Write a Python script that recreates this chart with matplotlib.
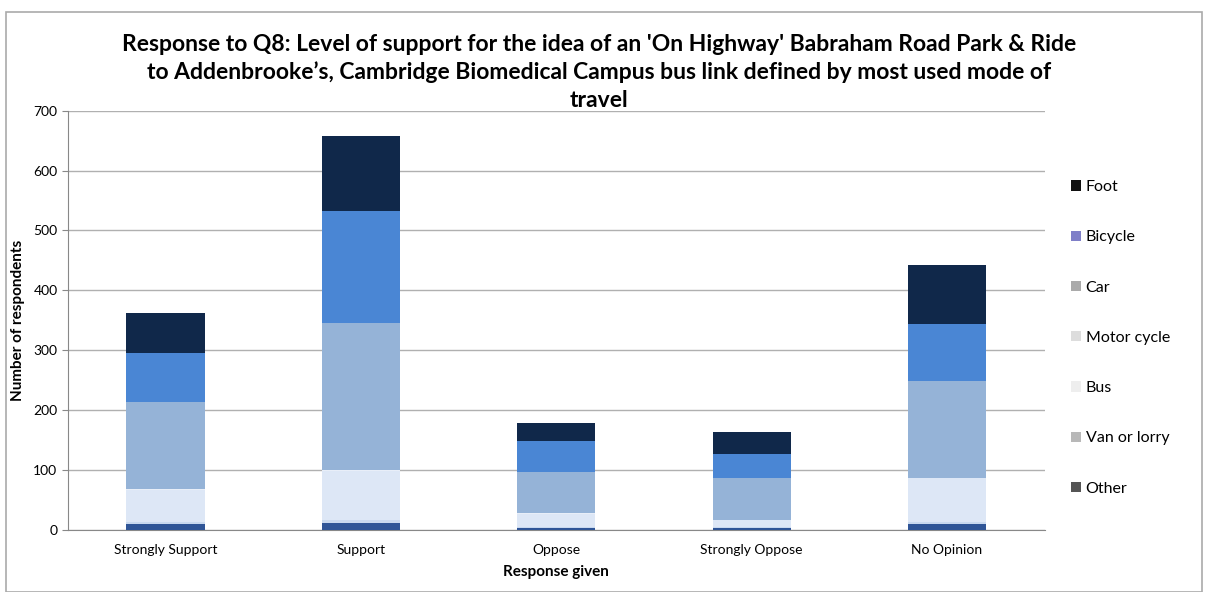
import matplotlib
matplotlib.use("Agg")
import matplotlib.pyplot as plt
from matplotlib.patches import Patch, Rectangle
import numpy as np

plt.rcParams['font.family'] = ['Lato', 'DejaVu Sans']

categories = ["Strongly Support", "Support", "Oppose", "Strongly Oppose", "No Opinion"]
modes = ["Other", "Van or lorry", "Bus", "Motor cycle", "Car", "Bicycle", "Foot"]
other = [10, 12, 3, 3, 10]
van_or_lorry = [3, 4, 2, 2, 3]
bus = [54, 82, 22, 11, 73]
motor_cycle = [1, 2, 1, 1, 1]
car = [146, 246, 69, 69, 161]
bicycle = [81, 186, 52, 41, 96]
foot = [67, 126, 29, 37, 98]
series = [other, van_or_lorry, bus, motor_cycle, car, bicycle, foot]

bar_colors = ["#2f5597", "#c9d9ef", "#dde7f6", "#e8eef8", "#95b3d7", "#4a86d4", "#10284a"]
legend_colors = ["#555555", "#b8b8b8", "#eeeeee", "#dddddd", "#aaaaaa", "#7f7fc8", "#111111"]

fig = plt.figure(figsize=(12.12, 5.92), dpi=100)
ax = fig.add_axes([0.056, 0.105, 0.806, 0.708])

x = np.arange(len(categories))
bottom = np.zeros(len(categories))
for vals, col, name in zip(series, bar_colors, modes):
    ax.bar(x, vals, 0.4, bottom=bottom, color=col, label=name, zorder=3)
    bottom += np.array(vals)

ax.set_ylim(0, 700)
ax.set_xlim(-0.5, len(categories) - 0.5)
ax.set_yticks(range(0, 701, 100))
ax.yaxis.grid(True, color="#b0b0b0", linewidth=1, zorder=0)
ax.set_xticks(x)
ax.set_xticklabels(categories, fontsize=10)
ax.tick_params(axis="y", labelsize=10, length=4, color="#888888")
ax.tick_params(axis="x", length=0, pad=10)
for s in ["top", "right"]:
    ax.spines[s].set_visible(False)
ax.spines["left"].set_color("#888888")
ax.spines["bottom"].set_color("#888888")

ax.set_ylabel("Number of respondents", fontsize=11, fontweight="bold", labelpad=6)
ax.set_xlabel("Response given", fontsize=11, fontweight="bold", labelpad=7)

fig.suptitle("Response to Q8: Level of support for the idea of an 'On Highway' Babraham Road Park & Ride\n"
             "to Addenbrooke\u2019s, Cambridge Biomedical Campus bus link defined by most used mode of\ntravel",
             x=0.494, y=0.942, fontsize=16.5, fontweight="bold", linespacing=1.36)

handles = [Patch(facecolor=c, edgecolor="none", label=m) for c, m in zip(legend_colors[::-1], modes[::-1])]
leg = fig.legend(handles=handles, loc="upper left", bbox_to_anchor=(0.872, 0.72),
                 frameon=False, fontsize=11.5, labelspacing=2.27, handlelength=0.6,
                 handleheight=0.6, handletextpad=0.3)

fig.patches.append(Rectangle((6 / 1212, 0), 1196 / 1212, 1 - 12 / 592, transform=fig.transFigure,
                             fill=False, edgecolor="#aaaaaa", linewidth=1.2))

fig.savefig("out.png", dpi=100)
